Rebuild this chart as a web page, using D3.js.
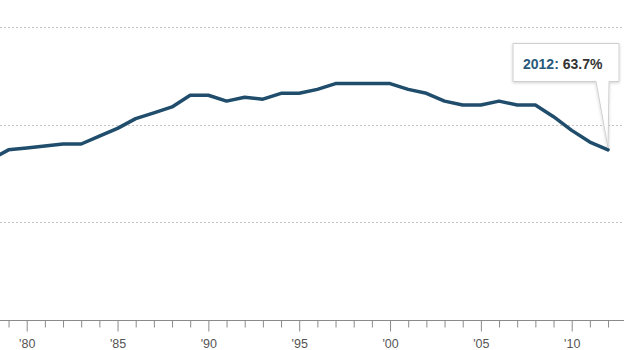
<!DOCTYPE html>
<html>
<head>
<meta charset="utf-8">
<script src="https://cdn.jsdelivr.net/npm/d3@7"></script>
<style>
  html, body { margin: 0; padding: 0; background: #fff; }
  svg { display: block; font-family: "Liberation Sans", Arial, Helvetica, sans-serif; }
</style>
</head>
<body>
<svg id="chart" width="624" height="350"></svg>
<script>
// Labor force participation rate, annual averages (%)
const years = [1978, 1979, 1980, 1981, 1982, 1983, 1984, 1985, 1986, 1987, 1988, 1989,
  1990, 1991, 1992, 1993, 1994, 1995, 1996, 1997, 1998, 1999, 2000, 2001, 2002, 2003,
  2004, 2005, 2006, 2007, 2008, 2009, 2010, 2011, 2012];
const rates = [63.2, 63.7, 63.8, 63.9, 64.0, 64.0, 64.4, 64.8, 65.3, 65.6, 65.9, 66.5,
  66.5, 66.2, 66.4, 66.3, 66.6, 66.6, 66.8, 67.1, 67.1, 67.1, 67.1, 66.8, 66.6, 66.2,
  66.0, 66.0, 66.2, 66.0, 66.0, 65.4, 64.7, 64.1, 63.7];
const gridValues = [60, 65, 70];
const labelYears = [1980, 1985, 1990, 1995, 2000, 2005, 2010];
const calloutYear = 2012;
const calloutValue = 63.7;

const svg = d3.select("#chart");
const W = 624, H = 350;

const x = d3.scaleLinear().domain([1980, 2010]).range([26.7, 571.7]);
const y = d3.scaleLinear().domain([55, 70]).range([319.5, 27]);

// dashed horizontal gridlines
svg.append("g").selectAll("line").data(gridValues).join("line")
  .attr("x1", 0).attr("x2", W)
  .attr("y1", d => Math.round(y(d)) + 0.5).attr("y2", d => Math.round(y(d)) + 0.5)
  .attr("stroke", "#c4c4c4").attr("stroke-width", 1)
  .attr("stroke-dasharray", "2,2");

// bottom axis: a tick every year, labels every five years
const tickYears = d3.range(1978, 2013);
const axis = d3.axisBottom(x)
  .tickValues(tickYears)
  .tickSize(0)
  .tickFormat("");
const gAxis = svg.append("g").attr("transform", "translate(0,320.5)").call(axis);
gAxis.select(".domain").remove();
gAxis.append("line").attr("x1", 0).attr("x2", W).attr("stroke", "#8a8a8a").attr("stroke-width", 1);
gAxis.selectAll(".tick").append("line")
  .attr("y2", d => labelYears.includes(d) ? 11 : 7)
  .attr("stroke", "#8a8a8a").attr("stroke-width", 1);
gAxis.selectAll(".tick").filter(d => labelYears.includes(d)).append("text")
  .attr("y", 27.5)
  .attr("text-anchor", "middle")
  .attr("fill", "#555")
  .attr("font-size", 12.5)
  .text(d => "'" + String(d).slice(2));

// the series line
const line = d3.line()
  .x((d, i) => x(years[i]))
  .y(d => y(d));
svg.append("path")
  .datum(rates)
  .attr("d", line)
  .attr("fill", "none")
  .attr("stroke", "#1f4d6b")
  .attr("stroke-width", 3.5)
  .attr("stroke-linejoin", "round")
  .attr("stroke-linecap", "round");

// callout for the latest value
const defs = svg.append("defs");
const f = defs.append("filter").attr("id", "shadow").attr("x", "-20%").attr("y", "-20%").attr("width", "140%").attr("height", "160%");
f.append("feDropShadow").attr("dx", 0).attr("dy", 1).attr("stdDeviation", 1.5)
  .attr("flood-color", "#000").attr("flood-opacity", 0.18);

const tipX = x(calloutYear), tipY = y(calloutValue) - 2;
const bx = 513, by = 43.5, bw = 106, bh = 38;
const callout = svg.append("g");
const shape = d3.path();
shape.moveTo(bx, by);
shape.lineTo(bx + bw, by);
shape.lineTo(bx + bw, by + bh);
shape.lineTo(tipX + 1, by + bh);
shape.lineTo(tipX, tipY);
shape.lineTo(tipX - 12, by + bh);
shape.lineTo(bx, by + bh);
shape.closePath();
callout.append("path")
  .attr("d", shape.toString())
  .attr("fill", "#fff")
  .attr("stroke", "#cfcfcf")
  .attr("stroke-width", 1)
  .attr("filter", "url(#shadow)");

const label = callout.append("text")
  .attr("x", 523).attr("y", 68.5)
  .attr("font-size", 14)
  .attr("font-weight", "bold");
label.append("tspan").attr("fill", "#2a5a7b").text(calloutYear + ":");
label.append("tspan").attr("fill", "#333").text(" " + calloutValue.toFixed(1) + "%");
</script>
</body>
</html>
